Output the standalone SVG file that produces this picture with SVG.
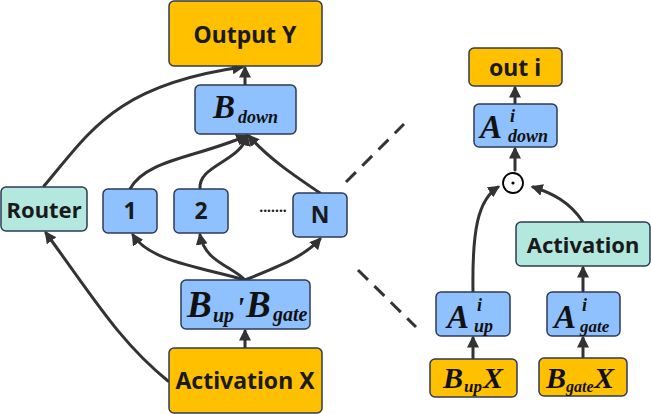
<svg xmlns="http://www.w3.org/2000/svg" width="651" height="414" viewBox="0 0 651 414">
<style>
.o{fill:#FFC000;stroke:#2F3A56;stroke-width:1.5}
.b{fill:#8FC1FF;stroke:#2F3A56;stroke-width:1.5}
.t{fill:#B3E8DF;stroke:#2F3A56;stroke-width:1.5}
.lb{font-family:"Noto Sans","Open Sans","DejaVu Sans",sans-serif;font-weight:bold;fill:#1a1a1a;text-anchor:middle}
.m{font-family:"Liberation Serif","DejaVu Serif",serif;font-weight:bold;font-style:italic;fill:#111}
.c{fill:none;stroke:#333;stroke-width:3;stroke-linecap:round}
.d{fill:none;stroke:#333;stroke-width:3;stroke-dasharray:14 9}
</style>
<defs>
<marker id="ah" viewBox="0 0 10 10" refX="8" refY="5" markerWidth="4" markerHeight="4" orient="auto-start-reverse">
<path d="M0,0 L10,5 L0,10 Z" fill="#333"/>
</marker>
</defs>
<g id="connectors">
<path class="c" marker-end="url(#ah)" d="M245,347 L245,331"/>
<path class="c" marker-end="url(#ah)" d="M245,280 C205,268 150,262 133,235"/>
<path class="c" marker-end="url(#ah)" d="M245,280 C232,266 205,262 200,235"/>
<path class="c" marker-end="url(#ah)" d="M245,280 C280,266 305,256 320,239"/>
<path class="c" marker-end="url(#ah)" d="M130,189 C145,160 195,158 246,136"/>
<path class="c" marker-end="url(#ah)" d="M200,189 C198,165 240,162 247,136"/>
<path class="c" marker-end="url(#ah)" d="M320,193 C295,176 268,158 249,136"/>
<path class="c" marker-end="url(#ah)" d="M245,85 L245,68"/>
<path class="c" marker-end="url(#ah)" d="M44,186 C90,132 115,85 242,67"/>
<path class="c" marker-end="url(#ah)" d="M168,381 C120,342 95,300 46,233"/>
<path class="c" marker-end="url(#ah)" d="M473,358 L473,338"/>
<path class="c" marker-end="url(#ah)" d="M473,292 C472,230 478,200 498,187"/>
<path class="c" marker-end="url(#ah)" d="M583,291 L583,268"/>
<path class="c" marker-end="url(#ah)" d="M583,357 L583,338"/>
<path class="c" marker-end="url(#ah)" d="M583,222 C570,202 552,193 533,187"/>
<path class="c" marker-end="url(#ah)" d="M515,170 L515,149"/>
<path class="c" marker-end="url(#ah)" d="M515,103 L515,88"/>
<path class="d" d="M346,182 L404,124"/>
<path class="d" d="M358,270 L416,327"/>
</g>
<g id="output-y"><rect class="o" x="169" y="1" width="153" height="65" rx="5"/><text class="lb" x="245" y="43" font-size="23">Output Y</text></g>
<g id="b-down"><rect class="b" x="195" y="85" width="101" height="49" rx="5"/><text class="m" x="213" y="118" font-size="33">B</text><text class="m" x="238" y="123" font-size="18">down</text></g>
<g id="router"><rect class="t" x="1" y="187" width="86" height="44" rx="5"/><text class="lb" x="44" y="218" font-size="22">Router</text></g>
<g id="expert-1"><rect class="b" x="103" y="189" width="54" height="44" rx="5"/><text class="lb" x="130" y="219" font-size="23">1</text></g>
<g id="expert-2"><rect class="b" x="174" y="189" width="54" height="44" rx="5"/><text class="lb" x="201" y="219" font-size="23">2</text></g>
<g id="dots"><text class="lb" x="273" y="212" font-size="14">.......</text></g>
<g id="expert-n"><rect class="b" x="293" y="193" width="54" height="44" rx="5"/><text class="lb" x="320" y="223" font-size="23">N</text></g>
<g id="b-up-gate"><rect class="b" x="181" y="280" width="129" height="49" rx="5"/><text class="m" x="187" y="317" font-size="37">B</text><text class="m" x="213" y="322" font-size="20">up</text><text class="m" x="236" y="317" font-size="30">'</text><text class="m" x="246" y="317" font-size="37">B</text><text class="m" x="273" y="321" font-size="20">gate</text></g>
<g id="activation-x"><rect class="o" x="169" y="348" width="153" height="65" rx="5"/><text class="lb" x="245" y="389" font-size="23">Activation X</text></g>
<g id="out-i"><rect class="o" x="469" y="48" width="93" height="38" rx="5"/><text class="lb" x="515" y="76" font-size="23">out i</text></g>
<g id="a-down"><rect class="b" x="474" y="104" width="83" height="43" rx="5"/><text class="m" x="480" y="138" font-size="33">A</text><text class="m" x="510" y="122" font-size="18">i</text><text class="m" x="508" y="142" font-size="18">down</text></g>
<g id="odot"><circle cx="513" cy="183" r="10" fill="#fff" stroke="#000" stroke-width="1.8"/><circle cx="513" cy="183" r="1.6" fill="#000"/></g>
<g id="activation"><rect class="t" x="516" y="222" width="134" height="44" rx="5"/><text class="lb" x="583" y="253" font-size="22">Activation</text></g>
<g id="a-up"><rect class="b" x="436" y="292" width="74" height="44" rx="5"/><text class="m" x="447" y="328" font-size="33">A</text><text class="m" x="477" y="311" font-size="18">i</text><text class="m" x="474" y="332" font-size="18">up</text></g>
<g id="a-gate"><rect class="b" x="547" y="292" width="73" height="44" rx="5"/><text class="m" x="554" y="328" font-size="33">A</text><text class="m" x="582" y="311" font-size="18">i</text><text class="m" x="580" y="332" font-size="17">gate</text></g>
<g id="bup-x"><rect class="o" x="430" y="359" width="87" height="38" rx="5"/><text class="m" x="443" y="388" font-size="30">B</text><text class="m" x="464" y="392" font-size="17">up</text><text class="m" x="483" y="388" font-size="30">X</text></g>
<g id="bgate-x"><rect class="o" x="539" y="358" width="88" height="38" rx="5"/><text class="m" x="546" y="388" font-size="30">B</text><text class="m" x="566" y="392" font-size="16">gate</text><text class="m" x="594" y="388" font-size="30">X</text></g>
</svg>
